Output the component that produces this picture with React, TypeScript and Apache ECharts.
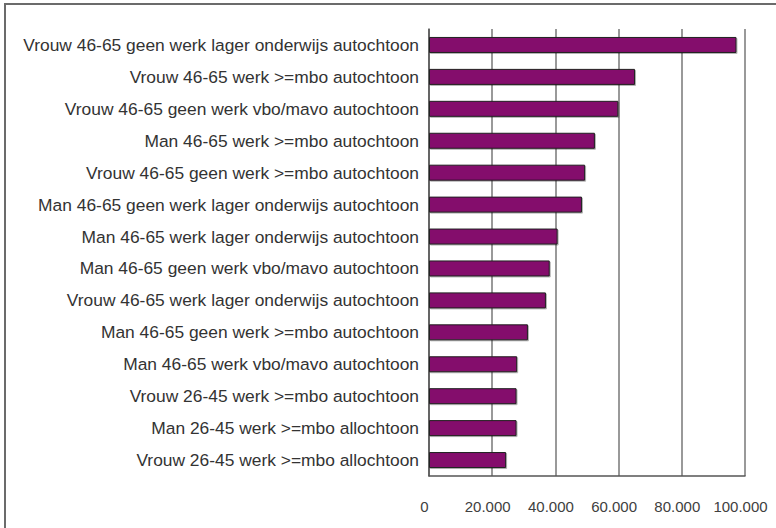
import React, { useEffect, useRef } from "react";
import * as echarts from "echarts";

const categories = [
  "Vrouw 46-65 geen werk lager onderwijs autochtoon",
  "Vrouw 46-65 werk >=mbo autochtoon",
  "Vrouw 46-65 geen werk vbo/mavo autochtoon",
  "Man 46-65 werk >=mbo autochtoon",
  "Vrouw 46-65 geen werk >=mbo autochtoon",
  "Man 46-65 geen werk lager onderwijs autochtoon",
  "Man 46-65 werk lager onderwijs autochtoon",
  "Man 46-65 geen werk vbo/mavo autochtoon",
  "Vrouw 46-65 werk lager onderwijs autochtoon",
  "Man 46-65 geen werk >=mbo autochtoon",
  "Man 46-65 werk vbo/mavo autochtoon",
  "Vrouw 26-45 werk >=mbo autochtoon",
  "Man 26-45 werk >=mbo allochtoon",
  "Vrouw 26-45 werk >=mbo allochtoon",
];

const values = [
  97300, 65200, 59900, 52500, 49400, 48400, 40700, 38200, 37000, 31300, 27900,
  27700, 27700, 24400,
];

const xMin = 0;
const xMax = 100000;
const xInterval = 20000;

export default function App() {
  const ref = useRef<HTMLDivElement>(null);
  useEffect(() => {
    if (!ref.current) return;
    const chart = echarts.init(ref.current, undefined, { renderer: "svg" });
    const font = "'Liberation Sans', Arial, sans-serif";
    chart.setOption({
      animation: false,
      backgroundColor: "#ffffff",
      graphic: [
        {
          type: "line",
          shape: { x1: 4, y1: 4, x2: 776, y2: 4 },
          style: { stroke: "#6b6b6b", lineWidth: 2 },
          z: 100,
          silent: true,
        },
        {
          type: "line",
          shape: { x1: 5, y1: 3, x2: 5, y2: 528 },
          style: { stroke: "#6b6b6b", lineWidth: 2 },
          z: 100,
          silent: true,
        },
      ],
      grid: { left: 429, right: 31, top: 29, bottom: 52, containLabel: false },
      xAxis: {
        type: "value",
        min: xMin,
        max: xMax,
        interval: xInterval,
        axisLine: { show: true, lineStyle: { color: "#555555", width: 1.5 } },
        axisTick: { show: false },
        splitLine: { show: true, lineStyle: { color: "#777777", width: 1.5 } },
        axisLabel: {
          color: "#404040",
          fontFamily: font,
          fontSize: 15,
          margin: 23,
          padding: [0, 9, 0, 0],
          formatter: (v: number) =>
            v === 0 ? "0" : String(v / 1000) + ".000",
        },
      },
      yAxis: {
        type: "category",
        data: categories,
        inverse: true,
        axisLine: { show: true, lineStyle: { color: "#555555", width: 1.5 } },
        axisTick: { show: false },
        axisLabel: {
          color: "#333333",
          fontFamily: font,
          fontSize: 17.4,
          margin: 10,
        },
      },
      series: [
        {
          type: "bar",
          data: values,
          barWidth: 16,
          itemStyle: {
            color: "#840A6C",
            borderColor: "#222222",
            borderWidth: 1,
            shadowColor: "rgba(0,0,0,0.3)",
            shadowOffsetX: 1,
            shadowOffsetY: 1,
            shadowBlur: 1,
          },
        },
      ],
    });
    return () => chart.dispose();
  }, []);
  return (
    <div
      ref={ref}
      style={{ position: "fixed", left: 0, top: 0, width: 776, height: 528 }}
    />
  );
}
